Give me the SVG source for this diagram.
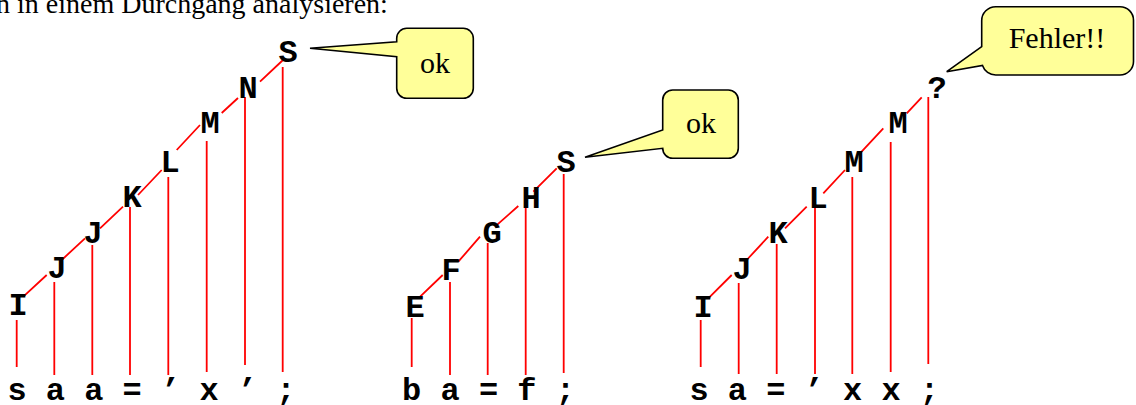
<svg xmlns="http://www.w3.org/2000/svg" width="1136" height="405" viewBox="0 0 1136 405">
<style>
.t{font-family:"Liberation Serif","Times New Roman",serif;font-size:28px;fill:#000}
.m{font-family:"Liberation Mono","Courier New",monospace;font-size:32px;font-weight:bold;fill:#000}
.n{font-family:"Liberation Mono","Courier New",monospace;font-size:32px;font-weight:bold;fill:#000;text-anchor:middle}
.c{stroke:#f00;stroke-width:1.8;fill:none}
.b{fill:#ffff99;stroke:#000;stroke-width:1.6}
.bt{font-family:"Liberation Serif","Times New Roman",serif;font-size:30px;fill:#000;text-anchor:middle}
</style>
<rect width="1136" height="405" fill="#fff"/>
<text id="title" class="t" x="-4" y="13">n in einem Durchgang analysieren:</text>

<g id="connectors">
  <path class="c" d="M16.7 320V367M54.3 282V375M92.3 245V375M130 207V375M168.3 177V375M206.7 141V372M245 97V365M282.7 67V372"/>
  <path class="c" d="M23.3 296.7L46.7 275M61.7 260L85 238.3M100 228.3L123 206.7M138 195L161.7 170M176.7 150L200 125M221.7 113L238 98M260 81.7L283 60"/>
  <path class="c" d="M411.7 318V367M450 282V375M487.7 243V375M525.7 205V375M563.7 174V373"/>
  <path class="c" d="M418.3 298.3L442.7 275M458.3 261.7L480 236.7M495 226.7L518.3 206M533.3 191.7L556.7 168.3"/>
  <path class="c" d="M700.7 320V367M738.7 283V374M776.7 244V374M815 208V374M852.3 177V374M890.7 142V372M928.3 97V364"/>
  <path class="c" d="M708.3 298.3L731.7 275M746.7 260L768.3 236.7M785 228.3L806.7 206.7M823.3 193.3L845 170M860 153.3L883.3 128.3M906.7 113.3L921.7 97.3"/>
</g>

<g id="tree1">
  <g id="t1-I"><text class="n" x="18" y="315">I</text></g>
  <g id="t1-J1"><text class="n" x="57" y="278">J</text></g>
  <g id="t1-J2"><text class="n" x="93" y="243">J</text></g>
  <g id="t1-K"><text class="n" x="132" y="207">K</text></g>
  <g id="t1-L"><text class="n" x="170" y="172">L</text></g>
  <g id="t1-M"><text class="n" x="210" y="133">M</text></g>
  <g id="t1-N"><text class="n" x="248" y="98">N</text></g>
  <g id="t1-S"><text class="n" x="288" y="62">S</text></g>
  <g id="t1-input"><text class="m" x="7.4" y="400">s a a = ’ x ’ ;</text></g>
</g>

<g id="tree2">
  <g id="t2-E"><text class="n" x="415" y="317">E</text></g>
  <g id="t2-F"><text class="n" x="451" y="280">F</text></g>
  <g id="t2-G"><text class="n" x="492" y="243">G</text></g>
  <g id="t2-H"><text class="n" x="531" y="208">H</text></g>
  <g id="t2-S"><text class="n" x="566" y="172">S</text></g>
  <g id="t2-input"><text class="m" x="402.1" y="400">b a = f ;</text></g>
</g>

<g id="tree3">
  <g id="t3-I"><text class="n" x="703" y="317">I</text></g>
  <g id="t3-J"><text class="n" x="742" y="279">J</text></g>
  <g id="t3-K"><text class="n" x="778" y="243">K</text></g>
  <g id="t3-L"><text class="n" x="818" y="208">L</text></g>
  <g id="t3-M1"><text class="n" x="854" y="172">M</text></g>
  <g id="t3-M2"><text class="n" x="898" y="133">M</text></g>
  <g id="t3-Q"><text class="n" x="937" y="98">?</text></g>
  <g id="t3-input"><text class="m" x="689.4" y="400">s a = ’ x x ;</text></g>
</g>

<g id="bubble-ok1">
  <path class="b" d="M406.7 28.3H463.3A10 10 0 0 1 473.3 38.3V88.3A10 10 0 0 1 463.3 98.3H406.7A10 10 0 0 1 396.7 88.3V56.7L310 48.3L396.7 41.7V38.3A10 10 0 0 1 406.7 28.3Z"/>
  <text class="bt" x="435" y="73">ok</text>
</g>
<g id="bubble-ok2">
  <path class="b" d="M672.7 90H728.3A10 10 0 0 1 738.3 100V148.3A10 10 0 0 1 728.3 158.3H672.7A10 10 0 0 1 662.7 148.3L585 157.3L662.7 130V100A10 10 0 0 1 672.7 90Z"/>
  <text class="bt" x="701" y="133">ok</text>
</g>
<g id="bubble-fehler">
  <path class="b" d="M995.7 6.7H1120A13.5 13.5 0 0 1 1133.5 20.2V61.5A13.5 13.5 0 0 1 1120 75H995.7A14 14 0 0 1 982.5 65.5L946.7 71.7L981.7 46.7V20.7A14 14 0 0 1 995.7 6.7Z"/>
  <text class="bt" x="1057" y="48">Fehler!!</text>
</g>
</svg>
